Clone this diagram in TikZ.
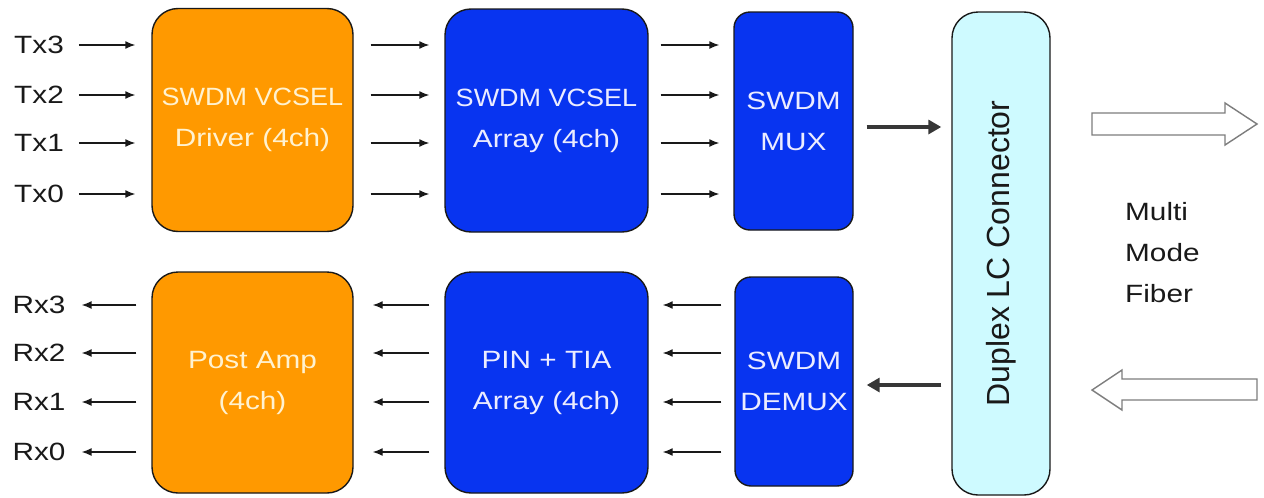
\documentclass[tikz,border=0pt]{standalone}
\usepackage{fontspec}
\setmainfont[FakeStretch=1.19]{Liberation Sans}
\newfontfamily\connfont{Liberation Sans}
\newfontfamily\narrowfont[FakeStretch=1.08]{Liberation Sans}
\usetikzlibrary{arrows.meta,calc}
\definecolor{orng}{RGB}{255,153,0}
\definecolor{blu}{RGB}{8,52,240}
\definecolor{cyanl}{RGB}{206,250,255}
\definecolor{otxt}{RGB}{255,242,208}
\definecolor{btxt}{RGB}{236,236,255}
\definecolor{ink}{RGB}{25,25,25}
\definecolor{thick}{RGB}{55,55,55}
\definecolor{hollow}{RGB}{125,125,125}
\begin{document}
\begin{tikzpicture}[x=1pt,y=-1pt,
  font=\fontsize{25}{41}\selectfont,
  blk/.style={draw=ink,line width=1.4pt,rounded corners=26pt,align=center,inner sep=0pt},
  oblk/.style={blk,fill=orng,text=otxt,minimum width=201pt,minimum height=223pt},
  bblk/.style={blk,fill=blu,text=btxt},
  lbl/.style={inner sep=0pt,text=ink},
  sarr/.style={draw=ink,line width=1.4pt,-{Latex[length=10pt,width=8pt]}},
  tarr/.style={draw=thick,line width=4pt,-{Triangle[length=13pt,width=14pt]}},
  fib/.style={draw=hollow,fill=white,line width=1.4pt,line join=miter}]
\useasboundingbox (0,0) rectangle (1264,498);
% blocks
\node[oblk] (drv) at (252.5,120) {{\narrowfont SWDM VCSEL}\\Driver (4ch)};
\node[bblk,minimum width=203pt,minimum height=223pt] (vcsel) at (546.5,120.5) {{\narrowfont SWDM VCSEL}\\Array (4ch)};
\node[bblk,rounded corners=16pt,minimum width=119pt,minimum height=218pt] (mux) at (793.5,121) {SWDM\\MUX};
\node[oblk,minimum height=221pt] (post) at (252.5,382.5) {Post Amp\\(4ch)};
\node[bblk,minimum width=203pt,minimum height=221pt] (pin) at (546.5,382.5) {PIN + TIA\\Array (4ch)};
\node[bblk,rounded corners=16pt,minimum width=118pt,minimum height=209pt] (demux) at (794,381.5) {SWDM\\DEMUX};
\node[blk,fill=cyanl,text=ink,minimum width=98pt,minimum height=483pt] (conn) at (1001,253.5) {};
\node[lbl,rotate=90,font=\connfont\fontsize{32}{38}\selectfont] (connt) at (conn.center) {Duplex LC Connector};
% Tx labels and arrows
\foreach \n/\y in {3/45,2/95,1/143,0/194}{
  \node[lbl] (tx\n) at (39,\y) {Tx\n};
  \draw[sarr,shorten <=15pt,shorten >=16pt] (tx\n.east) -- (drv.west |- tx\n.east);
  \draw[sarr,shorten <=17pt,shorten >=15pt] (drv.east |- tx\n.east) -- (vcsel.west |- tx\n.east);
  \draw[sarr,shorten <=12pt,shorten >=14pt] (vcsel.east |- tx\n.east) -- (mux.west |- tx\n.east);
}
% Rx labels and arrows
\foreach \n/\y in {3/305,2/353,1/402,0/452}{
  \node[lbl] (rx\n) at (39,\y) {Rx\n};
  \draw[sarr,shorten >=16pt,shorten <=15pt] (post.west |- rx\n.east) -- (rx\n.east);
  \draw[sarr,shorten >=19pt,shorten <=15pt] (pin.west |- rx\n.east) -- (post.east |- rx\n.east);
  \draw[sarr,shorten >=14pt,shorten <=13pt] (demux.west |- rx\n.east) -- (pin.east |- rx\n.east);
}
% thick arrows
\coordinate (muxo) at (mux.east |- 0,127);
\coordinate (demi) at (demux.east |- 0,385);
\draw[tarr,shorten <=13pt,shorten >=10pt] (muxo) -- (conn.west |- muxo);
\draw[tarr,shorten <=10pt,shorten >=13pt] (conn.west |- demi) -- (demi);
% fiber arrows
\draw[fib] (1092,113) -- (1225,113) -- (1225,103) -- (1257,124) -- (1225,145) -- (1225,135) -- (1092,135) -- cycle;
\draw[fib] (1257,379) -- (1122,379) -- (1122,370) -- (1092,390) -- (1122,410) -- (1122,400) -- (1257,400) -- cycle;
\node[lbl,anchor=west,align=left] (fiber) at (1125,253) {Multi\\Mode\\Fiber};
\end{tikzpicture}
\end{document}
